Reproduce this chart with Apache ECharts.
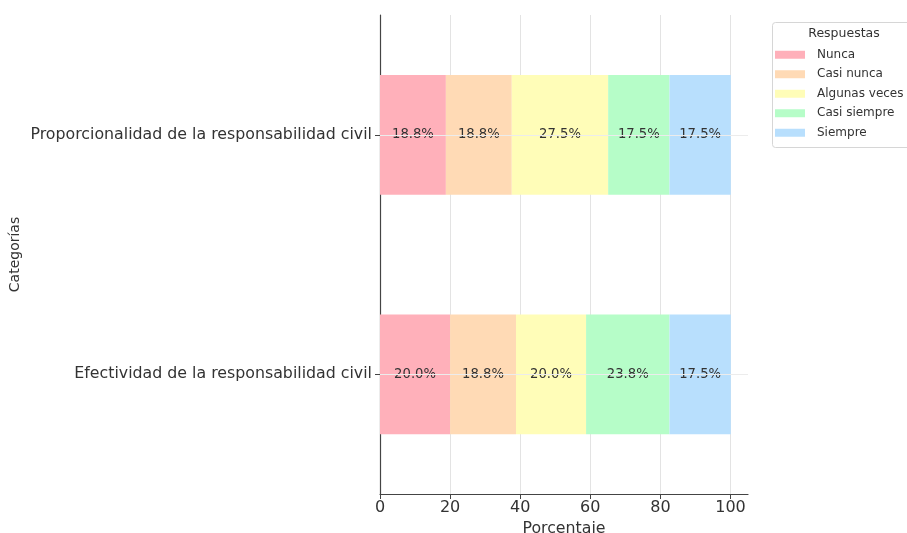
<!DOCTYPE html>
<html>
<head>
<meta charset="utf-8">
<script src="https://cdn.jsdelivr.net/npm/echarts@6/dist/echarts.min.js"></script>
<style>html,body{margin:0;padding:0;background:#fff;overflow:hidden;width:100%;height:100%;}#c{width:100vw;height:100vh;}</style>
</head>
<body>
<div id="c"></div>
<script>
const categories = ['Efectividad de la responsabilidad civil', 'Proporcionalidad de la responsabilidad civil'];
const seriesNames = ['Nunca', 'Casi nunca', 'Algunas veces', 'Casi siempre', 'Siempre'];
const nunca = [20.0, 18.8];
const casiNunca = [18.8, 18.8];
const algunasVeces = [20.0, 27.5];
const casiSiempre = [23.8, 17.5];
const siempre = [17.5, 17.5];
const xTicks = [0, 20, 40, 60, 80, 100];
const colors = ['#FFB0BA', '#FFDAB5', '#FFFDB8', '#B6FDC8', '#B8DFFD'];

const values = [nunca, casiNunca, algunasVeces, casiSiempre, siempre];
const FONT = 'DejaVu Sans';

const series = seriesNames.map((name, i) => {
  const s = {
    name: name,
    type: 'bar',
    stack: 'total',
    barWidth: '50%',
    data: values[i],
    itemStyle: { color: colors[i] },
    label: {
      show: true,
      position: 'inside',
      formatter: p => p.value.toFixed(1) + '%',
      fontFamily: FONT,
      fontSize: 13.2,
      color: '#333'
    }
  };
  if (i === 0) {
    s.markLine = {
      silent: true,
      symbol: 'none',
      label: { show: false },
      lineStyle: { color: '#ececec', width: 1, type: 'solid' },
      data: categories.map(c => ({ yAxis: c }))
    };
  }
  return s;
});

const chart = echarts.init(document.getElementById('c'));
chart.setOption({
  animation: false,
  backgroundColor: '#fff',
  grid: { left: 380, right: 159, top: 15, bottom: 39, containLabel: false, outerBoundsMode: 'none' },
  xAxis: {
    type: 'value',
    min: xTicks[0],
    max: 105,
    interval: 20,
    name: 'Porcentaje',
    nameLocation: 'middle',
    nameGap: 22,
    nameTextStyle: { fontFamily: FONT, fontSize: 15.8, color: '#333' },
    axisLine: { show: true, lineStyle: { color: '#444', width: 1.2 } },
    axisTick: { show: true, length: 5, lineStyle: { color: '#444' } },
    axisLabel: {
      fontFamily: FONT, fontSize: 16, color: '#333', margin: 6,
      showMaxLabel: false,
      formatter: v => (xTicks.indexOf(v) >= 0 ? String(v) : '')
    },
    splitLine: { show: true, showMinLine: false, showMaxLine: false, lineStyle: { color: '#e3e3e3', width: 1 } }
  },
  yAxis: {
    type: 'category',
    data: categories,
    name: 'Categorías',
    nameLocation: 'middle',
    nameGap: 358,
    nameRotate: 90,
    nameTextStyle: { fontFamily: FONT, fontSize: 14, color: '#333' },
    axisLine: { show: true, lineStyle: { color: '#444', width: 1.2 } },
    axisTick: { show: true, alignWithLabel: true, length: 5, lineStyle: { color: '#444' } },
    axisLabel: { fontFamily: FONT, fontSize: 15.8, color: '#333', margin: 8 },
    splitLine: { show: false }
  },
  legend: {
    orient: 'vertical',
    left: 770,
    top: 40,
    icon: 'rect',
    itemWidth: 30,
    itemHeight: 8,
    itemGap: 0,
    selectedMode: false,
    data: seriesNames,
    textStyle: { fontFamily: FONT, fontSize: 12, color: '#333', lineHeight: 19.5, padding: [0, 0, 0, 7] }
  },
  graphic: [
    {
      type: 'rect',
      left: 772, top: 22,
      shape: { width: 160, height: 125, r: 3 },
      style: { fill: '#fff', stroke: '#d6d6d6', lineWidth: 1 },
      z: -1
    },
    {
      type: 'text',
      x: 844, y: 34,
      style: { text: 'Respuestas', fontFamily: FONT, fontSize: 12.5, fill: '#333', align: 'center', verticalAlign: 'middle' }
    }
  ],
  series: series
});
</script>
</body>
</html>
